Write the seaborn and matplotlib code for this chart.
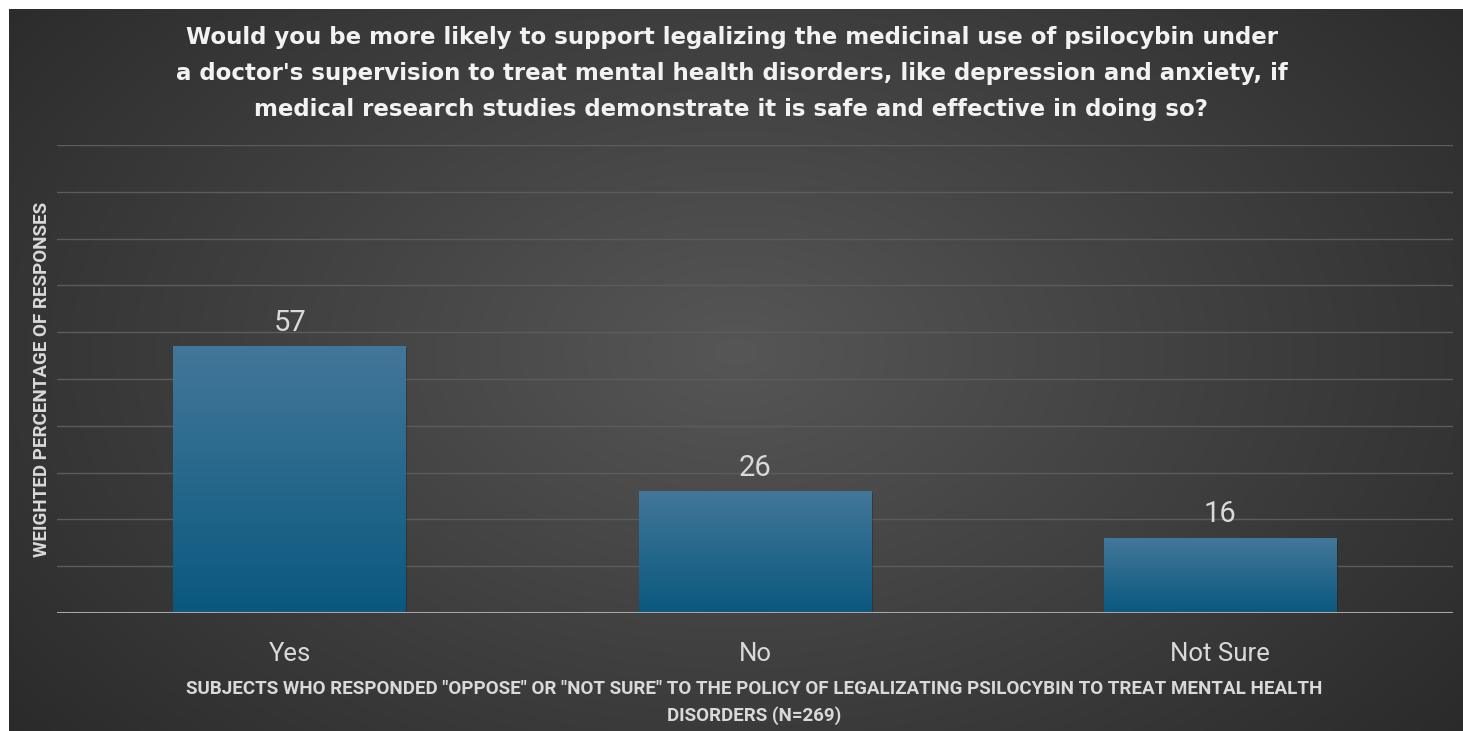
import numpy as np
import pandas as pd
import matplotlib
matplotlib.use("Agg")
import matplotlib.pyplot as plt
import matplotlib.patheffects as pe
import seaborn as sns

# Survey responses
categories = ["Yes", "No", "Not Sure"]
percentages = [57, 26, 16]
y_ticks = [0, 10, 20, 30, 40, 50, 60, 70, 80, 90, 100]

title = ("Would you be more likely to support legalizing the medicinal use of psilocybin under\n"
         "a doctor's supervision to treat mental health disorders, like depression and anxiety, if\n"
         "medical research studies demonstrate it is safe and effective in doing so?")
x_label = ('SUBJECTS WHO RESPONDED "OPPOSE" OR "NOT SURE" TO THE POLICY OF LEGALIZATING PSILOCYBIN TO TREAT MENTAL HEALTH\n'
           'DISORDERS (N=269)')
y_label = "WEIGHTED PERCENTAGE OF RESPONSES"

sns.set_theme(style="white")
plt.rcParams["font.family"] = ["DejaVu Sans"]

W, H = 1463, 731
fig = plt.figure(figsize=(W / 100, H / 100), dpi=100)
fig.patch.set_facecolor("white")

# Dark panel with a soft radial glow toward the centre
bg = fig.add_axes([9 / W, 0, 1 - 9 / W, 1 - 9 / H])
bg.set_axis_off()
gx, gy = np.meshgrid(np.linspace(-1, 1, 600), np.linspace(-1, 1, 300))
r = np.sqrt((gx / 1.0) ** 2 + ((gy + 0.05) / 1.3) ** 2)
shade = np.clip(1 - r / 1.3, 0, 1)
dark = np.array([0x2a, 0x2a, 0x2a]) / 255
light = np.array([0x56, 0x56, 0x56]) / 255
img = dark + (light - dark) * shade[..., None] ** 1.0
bg.imshow(img, aspect="auto", extent=[0, 1, 0, 1], interpolation="bicubic")
bg.set_xlim(0, 1)
bg.set_ylim(0, 1)

# Plot area
left, right, bottom, top = 57, 1453, 613, 145
ax = fig.add_axes([left / W, (H - bottom) / H, (right - left) / W, (bottom - top) / H])
ax.patch.set_alpha(0)

df = pd.DataFrame({"category": categories, "pct": percentages})
sns.barplot(data=df, x="category", y="pct", color="#1f6289", width=0.5,
            saturation=1, linewidth=0, edgecolor="none", ax=ax, zorder=3)

ax.set_xlim(-0.5, len(categories) - 0.5)
ax.set_ylim(0, 100)

# Vertical gradient fill for each bar, with a soft drop shadow
grad = np.linspace(0, 1, 256)[:, None]
top_c = np.array([0x43, 0x77, 0x99]) / 255
bot_c = np.array([0x0a, 0x58, 0x7f]) / 255
grad_img = top_c + (bot_c - top_c) * grad[..., None]
for patch in ax.patches:
    x0, y0 = patch.get_x(), patch.get_y()
    w, h = patch.get_width(), patch.get_height()
    patch.set_path_effects([pe.SimplePatchShadow(offset=(1, -1), shadow_rgbFace="black", alpha=0.22),
                            pe.Normal()])
    im = ax.imshow(np.repeat(grad_img, 2, axis=1), extent=[x0, x0 + w, y0, y0 + h],
                   aspect="auto", zorder=4, interpolation="bilinear")
    im.set_clip_path(patch)

ax.bar_label(ax.containers[0], labels=[str(v) for v in percentages], padding=7,
             fontsize=21, color="#d9d9d9", fontfamily="Roboto", zorder=5)

# Grid
ax.set_yticks(y_ticks)
ax.set_yticklabels([])
ax.grid(axis="y", color="#5c5c5c", linewidth=1, zorder=0)
ax.grid(axis="x", visible=False)
ax.axhline(0, color="#a6a6a6", linewidth=1.5, zorder=6)
for s in ax.spines.values():
    s.set_visible(False)

ax.tick_params(axis="x", length=0, pad=21, labelsize=18.5, labelcolor="#d9d9d9")
ax.tick_params(axis="y", length=0)
for t in ax.get_xticklabels():
    t.set_fontfamily("Roboto")
ax.set_xlabel("")
ax.set_ylabel("")

fig.text(0.5, 1 - 73.5 / H, title, ha="center", va="center", fontsize=16.5,
         fontweight="bold", color="#f2f2f2", linespacing=1.7)
fig.text(754 / W, 1 - 702.5 / H, x_label, ha="center", va="center", fontsize=13.5,
         fontweight="bold", color="#d9d9d9", fontfamily="Roboto", linespacing=1.6)
fig.text(42 / W, 1 - 379 / H, y_label, ha="center", va="center", rotation=90,
         fontsize=13.5, fontweight="bold", color="#d9d9d9", fontfamily="Roboto")

fig.savefig("out.png", dpi=100, facecolor=fig.get_facecolor())
